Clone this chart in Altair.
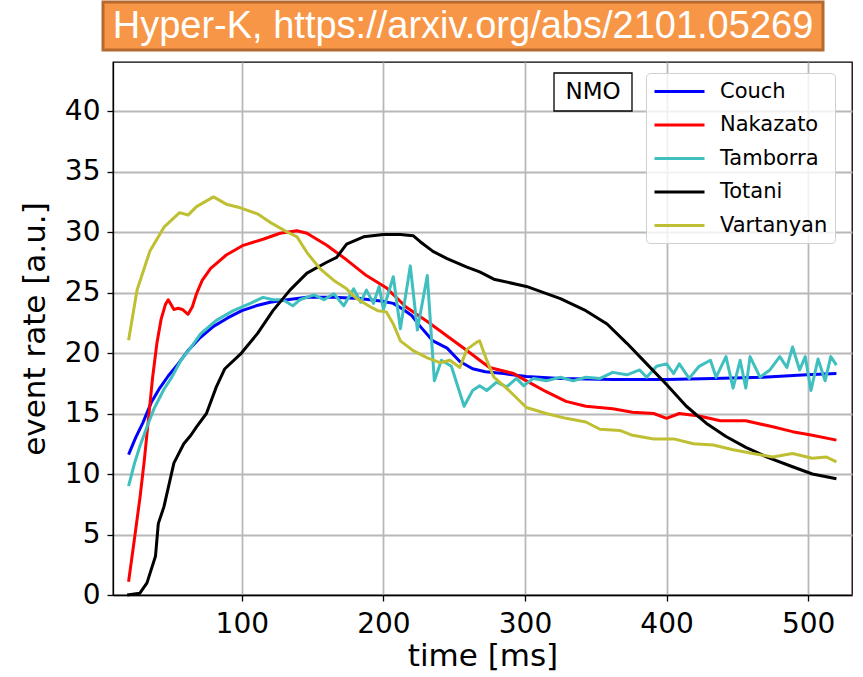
import altair as alt
import pandas as pd

models = ["Couch", "Nakazato", "Tamborra", "Totani", "Vartanyan"]
colors = ["#0000ff", "#ff0000", "#3fbfbf", "#000000", "#bfbf33"]

couch_t = [20, 25, 30, 36, 42, 48, 55, 62, 70, 80, 90, 100, 110, 120, 132, 146, 165, 183, 198, 207, 214, 220, 226, 235, 245, 254, 263, 272, 285, 301, 325, 362, 400, 433, 468, 499, 520]
couch_v = [11.6, 13.0, 14.2, 15.9, 17.1, 18.1, 19.1, 20.2, 21.2, 22.2, 22.9, 23.5, 23.9, 24.2, 24.4, 24.6, 24.6, 24.5, 24.3, 24.1, 23.6, 23.1, 22.2, 21.0, 20.4, 19.3, 18.7, 18.45, 18.3, 18.05, 17.9, 17.8, 17.8, 17.9, 18.0, 18.2, 18.3]

nakazato_t = [20, 24, 28, 31, 34, 37, 40, 43, 46, 48, 50, 52, 55, 58, 62, 65, 68, 72, 78, 89, 101, 115, 127, 139, 146, 160, 174, 188, 202, 216, 231, 245, 259, 268, 275, 292, 301, 315, 329, 343, 362, 376, 391, 400, 409, 423, 438, 456, 475, 489, 503, 520]
nakazato_v = [1.1, 4.5, 8.0, 11.0, 14.5, 18.0, 20.8, 22.8, 24.0, 24.4, 24.0, 23.6, 23.7, 23.6, 23.2, 23.8, 24.9, 26.0, 27.0, 28.1, 28.9, 29.4, 29.9, 30.1, 29.9, 28.9, 27.7, 26.4, 25.4, 23.8, 22.6, 21.4, 20.2, 19.4, 18.8, 18.3, 17.7, 16.8, 16.0, 15.6, 15.4, 15.1, 15.0, 14.6, 15.0, 14.8, 14.4, 14.4, 13.9, 13.5, 13.2, 12.8]

tamborra_t = [20, 24, 28, 33, 38, 45, 50, 57, 63, 71, 82, 94, 106, 115, 122, 129, 136, 141, 151, 158, 165, 172, 179, 184, 188, 193, 197, 200, 207, 212, 219, 224, 231, 236, 241, 248, 257, 263, 268, 273, 280, 287, 294, 299, 306, 315, 325, 334, 343, 353, 362, 372, 381, 386, 393, 400, 405, 409, 416, 423, 431, 435, 442, 447, 452, 456, 459, 466, 473, 480, 485, 489, 494, 498, 502, 507, 512, 516, 520]
tamborra_v = [9.0, 10.8, 12.3, 13.9, 15.4, 17.0, 17.9, 19.4, 20.3, 21.6, 22.7, 23.5, 24.1, 24.6, 24.4, 24.4, 23.9, 24.4, 24.8, 24.4, 24.9, 23.9, 25.3, 24.2, 25.2, 24.1, 25.5, 23.6, 26.3, 22.0, 27.2, 21.9, 26.4, 17.7, 19.4, 18.9, 15.6, 16.9, 17.3, 16.9, 17.6, 17.2, 17.9, 17.3, 17.9, 17.7, 18.0, 17.7, 18.0, 17.9, 18.4, 18.2, 18.6, 18.0, 18.9, 19.1, 18.3, 19.1, 17.9, 18.9, 19.4, 18.0, 19.7, 17.1, 19.4, 17.1, 19.7, 18.0, 18.6, 19.7, 18.8, 20.5, 18.6, 19.7, 16.9, 19.5, 17.7, 19.7, 19.0]

totani_t = [19, 28, 33, 39, 41, 45, 52, 59, 64, 68, 75, 82, 88, 99, 111, 122, 134, 146, 160, 167, 174, 186, 200, 212, 221, 226, 235, 245, 259, 268, 278, 301, 325, 343, 358, 372, 386, 400, 414, 428, 442, 456, 471, 489, 503, 520]
totani_v = [0.0, 0.15, 1.0, 3.2, 5.9, 7.3, 10.9, 12.5, 13.2, 13.9, 15.0, 17.2, 18.7, 19.9, 21.6, 23.5, 25.2, 26.6, 27.5, 27.9, 29.0, 29.6, 29.8, 29.8, 29.7, 29.2, 28.4, 27.8, 27.1, 26.7, 26.1, 25.5, 24.5, 23.5, 22.4, 20.8, 19.1, 17.4, 15.6, 14.2, 13.1, 12.2, 11.4, 10.6, 10.0, 9.6]

vartanyan_t = [20, 26, 35, 45, 56, 62, 68, 80, 89, 99, 111, 120, 132, 139, 146, 155, 165, 174, 181, 191, 196, 202, 207, 212, 221, 231, 240, 247, 254, 259, 266, 268, 273, 278, 287, 301, 315, 329, 343, 353, 367, 376, 391, 405, 419, 433, 447, 461, 475, 489, 503, 513, 520]
vartanyan_v = [21.05, 25.2, 28.4, 30.4, 31.6, 31.4, 32.1, 32.9, 32.3, 32.0, 31.5, 30.8, 30.0, 29.6, 28.3, 27.0, 26.0, 25.3, 24.5, 23.8, 23.5, 23.4, 22.4, 21.0, 20.2, 19.6, 19.2, 19.4, 18.8, 20.3, 20.9, 21.0, 19.4, 18.0, 17.1, 15.5, 15.0, 14.6, 14.3, 13.7, 13.6, 13.2, 12.9, 12.9, 12.5, 12.4, 12.0, 11.7, 11.4, 11.7, 11.3, 11.4, 11.0]

y_ticks = [0, 5, 10, 15, 20, 25, 30, 35, 40]
x_ticks = [100, 200, 300, 400, 500]

series = [
    ("Couch", couch_t, couch_v),
    ("Nakazato", nakazato_t, nakazato_v),
    ("Tamborra", tamborra_t, tamborra_v),
    ("Totani", totani_t, totani_v),
    ("Vartanyan", vartanyan_t, vartanyan_v),
]
rows = []
for name, ts, vs in series:
    for t, v in zip(ts, vs):
        rows.append({"model": name, "t": t, "v": v})
df = pd.DataFrame(rows)

one = pd.DataFrame({"a": [0]})

title_box = alt.Chart(one).mark_rect(fill="#f79646", stroke="#b5692f", strokeWidth=3).encode(
    x=alt.value(-10), x2=alt.value(710), y=alt.value(-60), y2=alt.value(-12)
)
title_text = alt.Chart(one).mark_text(
    text="Hyper-K, https://arxiv.org/abs/2101.05269", font="Liberation Sans", fontSize=38,
    color="white", align="center", baseline="middle"
).encode(x=alt.value(350), y=alt.value(-35))

lines = alt.Chart(df).mark_line(strokeWidth=3, strokeJoin="round").encode(
    x=alt.X("t:Q", scale=alt.Scale(domain=[9, 531], nice=False, zero=False),
            axis=alt.Axis(values=x_ticks, title="time [ms]", titleX=369.5, titleY=61,
                          titleBaseline="middle", labelPadding=9)),
    y=alt.Y("v:Q", scale=alt.Scale(domain=[0, 44.05], nice=False),
            axis=alt.Axis(values=y_ticks, title="event rate [a.u.]", titleX=-78, titleY=266.5,
                          titleAngle=-90, titleAlign="center", titleBaseline="middle", labelPadding=7)),
    color=alt.Color("model:N", scale=alt.Scale(domain=models, range=colors),
                    legend=alt.Legend(orient="none", legendX=533, legendY=11, title=None,
                                      fillColor="rgba(255,255,255,0.8)", strokeColor="#d0d0d0",
                                      cornerRadius=4, padding=7, symbolType="M-1,0H4", symbolSize=400,
                                      symbolStrokeWidth=3, labelFontSize=21, labelFont="DejaVu Sans",
                                      labelOffset=44, rowPadding=11.5, labelColor="black")),
    detail="model:N",
)

nmo_box = alt.Chart(one).mark_rect(fill="white", stroke="black", strokeWidth=1.3).encode(
    x=alt.value(441), x2=alt.value(519), y=alt.value(11), y2=alt.value(49)
)
nmo_text = alt.Chart(one).mark_text(
    text="NMO", font="DejaVu Sans", fontSize=23, color="black", align="center", baseline="middle"
).encode(x=alt.value(480), y=alt.value(30))

chart = alt.layer(title_box, title_text, lines, nmo_box, nmo_text).properties(
    width=739, height=533,
    autosize=alt.AutoSizeParams(type="none"),
    padding={"left": 113, "top": 62, "right": 11, "bottom": 82},
).configure_view(stroke="black", strokeWidth=1.3).configure_axis(
    labelFont="DejaVu Sans", labelFontSize=28, labelColor="black",
    titleFont="DejaVu Sans", titleFontSize=31, titleColor="black", titleFontWeight="normal",
    domainColor="black", domainWidth=1.3, tickColor="black", tickSize=6, tickWidth=1.3,
    gridColor="#b8b8b8", gridWidth=1.8, gridOpacity=1,
)

chart.save("out.html", embed_options={"renderer": "svg", "actions": False})
